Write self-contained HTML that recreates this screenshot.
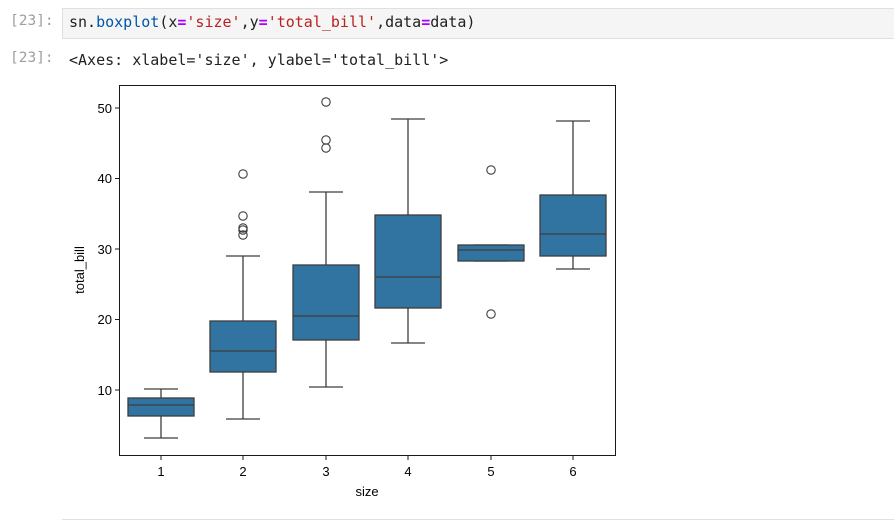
<!DOCTYPE html>
<html><head><style>
body{margin:0;width:894px;height:521px;background:#fff;overflow:hidden;position:relative;font-family:"DejaVu Sans Mono",monospace;}
.cell{position:absolute;left:62px;top:8px;width:831px;height:29px;background:#f5f5f5;border:1px solid #e0e0e0;}
.p{position:absolute;left:10px;color:#9e9e9e;font-size:14.5px;}
.t{position:absolute;font-size:15px;color:#212121;}
</style></head><body>
<div class="cell"></div>
<div class="p" style="top:13px">[23]:</div>
<div class="t" style="left:69px;top:13px">sn.<span style="color:#0055aa">boxplot</span>(x<span style="color:#a0f;font-weight:bold">=</span><span style="color:#ba2121">'size'</span>,y<span style="color:#a0f;font-weight:bold">=</span><span style="color:#ba2121">'total_bill'</span>,data<span style="color:#a0f;font-weight:bold">=</span>data)</div>
<div class="p" style="top:50px">[23]:</div>
<div class="t" style="left:69px;top:51px">&lt;Axes: xlabel='size', ylabel='total_bill'&gt;</div>
<div style="position:absolute;left:62px;top:519px;width:832px;height:1px;background:#e0e0e0"></div>
<svg width="894" height="521" style="position:absolute;left:0;top:0" font-family="Liberation Sans, sans-serif" font-size="13">
<g stroke="#3d3d3d" stroke-width="1.3" fill="#3274a1">
<line x1="161" y1="438" x2="161" y2="416"/><line x1="161" y1="398" x2="161" y2="389"/>
<line x1="144" y1="438" x2="178" y2="438"/><line x1="144" y1="389" x2="178" y2="389"/>
<rect x="128" y="398" width="66" height="18"/><line x1="128" y1="405" x2="194" y2="405"/>
<line x1="243" y1="419" x2="243" y2="372"/><line x1="243" y1="321" x2="243" y2="256"/>
<line x1="226" y1="419" x2="260" y2="419"/><line x1="226" y1="256" x2="260" y2="256"/>
<rect x="210" y="321" width="66" height="51"/><line x1="210" y1="351" x2="276" y2="351"/>
<line x1="326" y1="387" x2="326" y2="340"/><line x1="326" y1="265" x2="326" y2="192"/>
<line x1="309" y1="387" x2="343" y2="387"/><line x1="309" y1="192" x2="343" y2="192"/>
<rect x="293" y="265" width="66" height="75"/><line x1="293" y1="316" x2="359" y2="316"/>
<line x1="408" y1="343" x2="408" y2="308"/><line x1="408" y1="215" x2="408" y2="119"/>
<line x1="391" y1="343" x2="425" y2="343"/><line x1="391" y1="119" x2="425" y2="119"/>
<rect x="375" y="215" width="66" height="93"/><line x1="375" y1="277" x2="441" y2="277"/>
<line x1="474" y1="261" x2="508" y2="261"/><line x1="474" y1="245" x2="508" y2="245"/>
<rect x="458" y="245" width="66" height="16"/><line x1="458" y1="250" x2="524" y2="250"/>
<line x1="573" y1="269" x2="573" y2="256"/><line x1="573" y1="195" x2="573" y2="121"/>
<line x1="556" y1="269" x2="590" y2="269"/><line x1="556" y1="121" x2="590" y2="121"/>
<rect x="540" y="195" width="66" height="61"/><line x1="540" y1="234" x2="606" y2="234"/>
</g>
<g stroke="#3d3d3d" stroke-width="1.1" fill="none">
<circle cx="243" cy="174" r="4.2"/><circle cx="243" cy="216" r="4.2"/><circle cx="243" cy="228" r="4.2"/><circle cx="243" cy="230" r="4.2"/><circle cx="243" cy="235" r="4.2"/>
<circle cx="326" cy="102" r="4.2"/><circle cx="326" cy="140" r="4.2"/><circle cx="326" cy="148" r="4.2"/>
<circle cx="491" cy="170" r="4.2"/><circle cx="491" cy="314" r="4.2"/>
</g>
<rect x="119.5" y="85.5" width="496" height="370" fill="none" stroke="#000" stroke-width="0.9"/>
<g stroke="#000" stroke-width="0.9">
<line x1="115" y1="108" x2="119" y2="108"/><line x1="115" y1="178.5" x2="119" y2="178.5"/><line x1="115" y1="249" x2="119" y2="249"/><line x1="115" y1="319.5" x2="119" y2="319.5"/><line x1="115" y1="390" x2="119" y2="390"/>
<line x1="161" y1="456" x2="161" y2="460"/><line x1="243" y1="456" x2="243" y2="460"/><line x1="326" y1="456" x2="326" y2="460"/><line x1="408" y1="456" x2="408" y2="460"/><line x1="491" y1="456" x2="491" y2="460"/><line x1="573" y1="456" x2="573" y2="460"/>
</g>
<g text-anchor="end" fill="#000">
<text x="112" y="113">50</text><text x="112" y="183">40</text><text x="112" y="254">30</text><text x="112" y="324">20</text><text x="112" y="395">10</text>
</g>
<g text-anchor="middle" fill="#000">
<text x="161" y="476">1</text><text x="243" y="476">2</text><text x="326" y="476">3</text><text x="408" y="476">4</text><text x="491" y="476">5</text><text x="573" y="476">6</text>
<text x="367" y="496">size</text>
<text x="84" y="270" transform="rotate(-90 84 270)">total_bill</text>
</g>
</svg>
</body></html>
